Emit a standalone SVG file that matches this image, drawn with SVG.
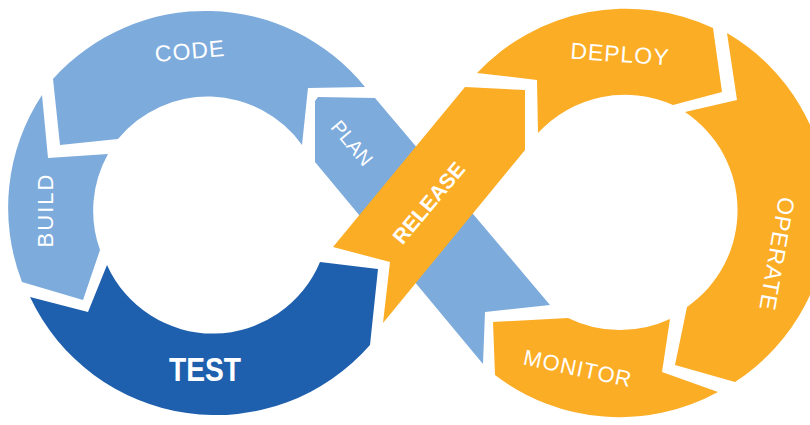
<svg xmlns="http://www.w3.org/2000/svg" width="810" height="425" viewBox="0 0 810 425">
<style>
.lb{fill:#7DABDC}
.db{fill:#1F60AE}
.or{fill:#FBAD25}
.t{fill:#fff;font-family:"Liberation Sans",Arial,sans-serif;text-anchor:middle}
.b{font-weight:bold}
</style>
<rect width="810" height="425" fill="#fff"/>
<g id="plan">
<path class="lb" d="M318 97 L375 98 L550 305 L485 312 L483 364 L315 162 L315 101 Z"/>
<text class="t" font-size="20" transform="translate(352,143) rotate(50)" y="7">PLAN</text>
</g>
<g id="code">
<path class="lb" d="M53 79 A205 205 0 0 1 365 87 L308 88 L302 145 A116 116 0 0 0 118 139 L60 145 Z"/>
<text class="t" font-size="23" letter-spacing="1" transform="translate(190,51) rotate(-5)" y="8">CODE</text>
</g>
<g id="build">
<path class="lb" d="M42 95 L48 158 L108 154 A116 116 0 0 0 100 250 L83 300 L22 282 A205 205 0 0 1 42 95 Z"/>
<text class="t" font-size="22" letter-spacing="2" transform="translate(45,210) rotate(-90)" y="8">BUILD</text>
</g>
<g id="test">
<path class="db" d="M30 297 L88 312 L107 265 A116 116 0 0 0 320 262 L378 269 L370 345 A205 205 0 0 1 30 297 Z"/>
<text class="t b" font-size="34" x="205" y="381" textLength="72" lengthAdjust="spacingAndGlyphs">TEST</text>
</g>
<g id="release">
<path class="or" d="M465 87 L525 90 L525 150 L383 323 L390 262 L333 247 Z"/>
<text class="t b" font-size="21" transform="translate(429,203) rotate(-50)" y="7">RELEASE</text>
</g>
<g id="deploy">
<path class="or" d="M477 73 A205 205 0 0 1 713 28 L722 92 L673 105 A118 118 0 0 0 538 133 L537 80 Z"/>
<text class="t" font-size="23" letter-spacing="1" transform="translate(620,54) rotate(4)" y="8">DEPLOY</text>
</g>
<g id="operate">
<path class="or" d="M727 33 A205 205 0 0 1 735 382 L675 365 L687 307 A118 118 0 0 0 685 112 L737 100 Z"/>
<text class="t" font-size="23" letter-spacing="1" transform="translate(777,254) rotate(100)" y="8">OPERATE</text>
</g>
<g id="monitor">
<path class="or" d="M670 319 L662 372 L718 392 A205 205 0 0 1 495 375 L493 322 L568 318 A118 118 0 0 0 670 319 Z"/>
<text class="t" font-size="22" letter-spacing="1" transform="translate(578,368) rotate(12)" y="8">MONITOR</text>
</g>
<g id="connectors"/>
</svg>
